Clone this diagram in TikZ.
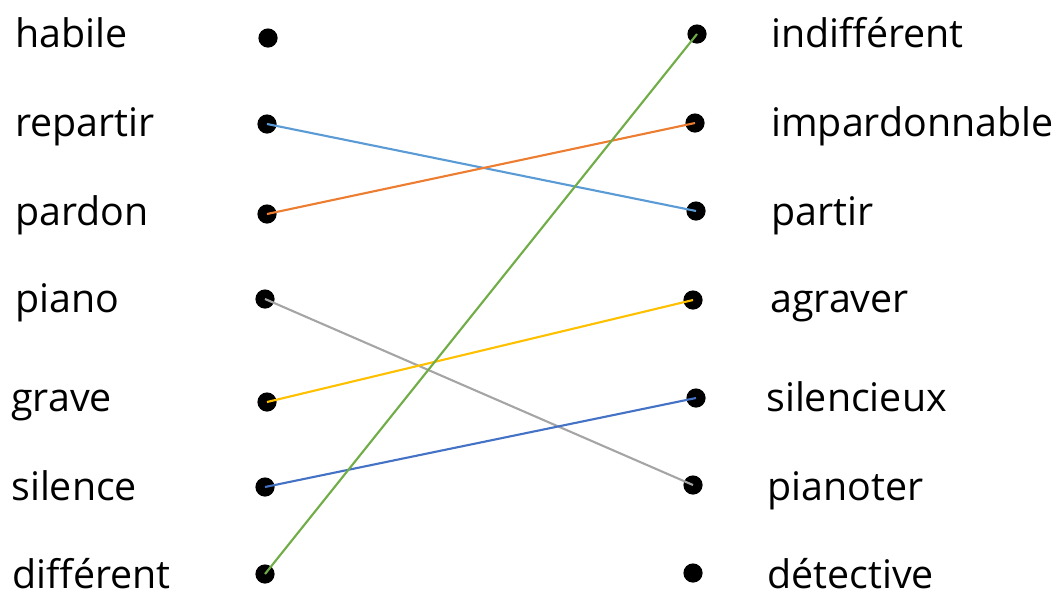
\documentclass[tikz,border=0pt]{standalone}
\usepackage{fontspec}
\setmainfont{Open Sans}

\begin{document}
\begin{tikzpicture}[x=0.025cm, y=-0.025cm]

% --- Styles ---
\tikzset{
    word/.style={anchor=base west, inner sep=0pt, font=\fontsize{28}{33}\selectfont},
    point/.style={circle, fill=black, inner sep=0pt, minimum size=0.48cm},
    link/.style={line width=1.5pt}
}
\definecolor{lightblue}{HTML}{5B9BD5}
\definecolor{orangeline}{HTML}{ED7D31}
\definecolor{greyline}{HTML}{A5A5A5}
\definecolor{yellowline}{HTML}{FFC000}
\definecolor{darkblue}{HTML}{4472C4}
\definecolor{greenline}{HTML}{70AD47}

\useasboundingbox (0,0) rectangle (1060,595);

% Woorden links
\node[word] (habile)    at (15,47)  {habile};
\node[word] (repartir)  at (15,136) {repartir};
\node[word] (pardon)    at (15,225) {pardon};
\node[word] (piano)     at (15,312) {piano};
\node[word] (grave)     at (11,411) {grave};
\node[word] (silence)   at (11,500) {silence};
\node[word] (different) at (12,588) {différent};

% Woorden rechts
\node[word] (indifferent)   at (771,47)  {indifférent};
\node[word] (impardonnable) at (771,136) {impardonnable};
\node[word] (partir)        at (771,225) {partir};
\node[word] (agraver)       at (770,312) {agraver};
\node[word] (silencieux)    at (766,411) {silencieux};
\node[word] (pianoter)      at (767,500) {pianoter};
\node[word] (detective)     at (767,588) {détective};

% Punten links
\node[point] (l1) at (268,38)  {};
\node[point] (l2) at (267,124) {};
\node[point] (l3) at (267,214) {};
\node[point] (l4) at (265,299) {};
\node[point] (l5) at (267,402) {};
\node[point] (l6) at (265,487) {};
\node[point] (l7) at (265,574) {};

% Punten rechts
\node[point] (r1) at (697,34)  {};
\node[point] (r2) at (695,123) {};
\node[point] (r3) at (696,211) {};
\node[point] (r4) at (693,300) {};
\node[point] (r5) at (696,398) {};
\node[point] (r6) at (693,485) {};
\node[point] (r7) at (693,573) {};

% Verbindingen
\draw[link, lightblue]  (l2.center) -- (r3.center);
\draw[link, orangeline] (l3.center) -- (r2.center);
\draw[link, greyline]   (l4.center) -- (r6.center);
\draw[link, yellowline] (l5.center) -- (r4.center);
\draw[link, darkblue]   (l6.center) -- (r5.center);
\draw[link, greenline]  (l7.center) -- (r1.center);

\end{tikzpicture}
\end{document}
